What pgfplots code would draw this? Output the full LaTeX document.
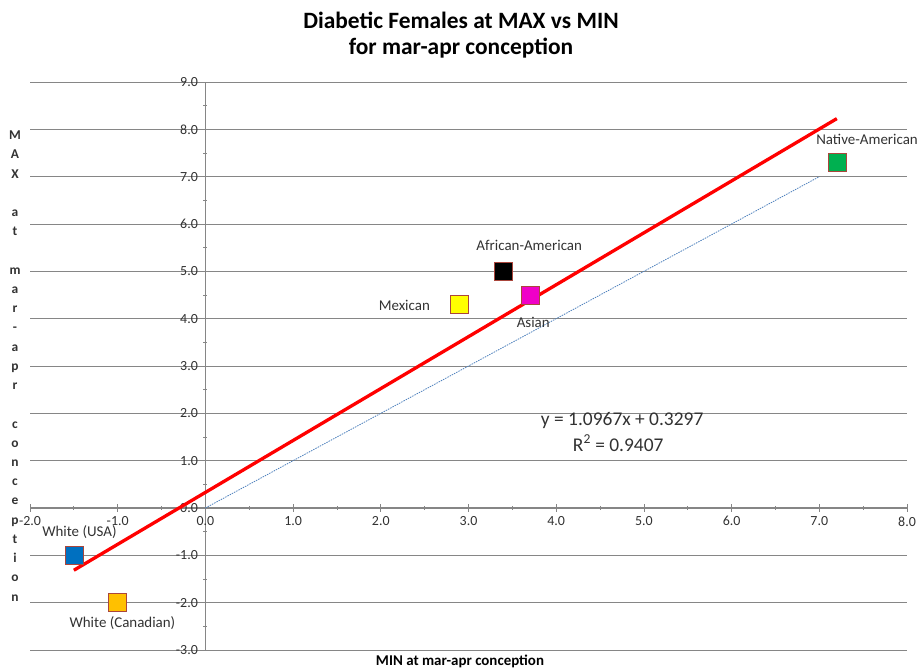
\documentclass[border=0pt]{standalone}
\usepackage{fontspec}
\setmainfont{Carlito}
\usepackage{pgfplots}
\pgfplotsset{compat=1.18}
\definecolor{gridgray}{RGB}{134,134,134}
\definecolor{labelgray}{RGB}{50,50,50}
\definecolor{markedge}{RGB}{170,70,60}
\definecolor{usablue}{RGB}{0,112,192}
\definecolor{canorange}{RGB}{255,192,0}
\definecolor{mexyellow}{RGB}{255,255,0}
\definecolor{asianpink}{RGB}{240,0,200}
\definecolor{nativegreen}{RGB}{0,176,80}
\definecolor{refblue}{RGB}{79,129,189}
\begin{document}
\begin{tikzpicture}[x=1bp,y=1bp]
\useasboundingbox (-30,-22) rectangle (892,650);
\begin{axis}[
  at={(0,0)}, anchor=south west,
  scale only axis, width=877bp, height=568bp,
  xmin=-2, xmax=8, ymin=-3, ymax=9,
  axis lines=middle,
  axis line style={-, draw=gridgray, line width=1bp},
  xtick={-2,-1,...,8}, ytick={-3,-2,...,9},
  minor tick num=1,
  ymajorgrids, grid style={draw=gridgray, line width=0.9bp},
  hide obscured x ticks=false, hide obscured y ticks=false,
  tick style={draw=gridgray, line width=0.8bp},
  major tick length=8bp, minor tick length=4bp,
  tick align=center,
  clip=false,
  /pgf/number format/.cd, fixed, fixed zerofill, precision=1, assume math mode=true,
  /pgfplots/.cd,
  tick label style={font=\fontsize{14}{14}\selectfont, text=labelgray},
  xticklabel style={yshift=-1bp},
  yticklabel style={xshift=0bp},
]
\addplot[only marks, mark=square*, mark size=9bp, mark options={fill=usablue, draw=markedge, line width=0.6bp}] coordinates {(-1.5,-1.0)};
\addplot[only marks, mark=square*, mark size=9bp, mark options={fill=canorange, draw=markedge, line width=0.6bp}] coordinates {(-1.0,-2.0)};
\addplot[only marks, mark=square*, mark size=9bp, mark options={fill=mexyellow, draw=markedge, line width=0.6bp}] coordinates {(2.9,4.3)};
\addplot[only marks, mark=square*, mark size=9bp, mark options={fill=black, draw=markedge, line width=0.6bp}] coordinates {(3.4,5.0)};
\addplot[only marks, mark=square*, mark size=9bp, mark options={fill=asianpink, draw=markedge, line width=0.6bp}] coordinates {(3.7,4.5)};
\addplot[only marks, mark=square*, mark size=9bp, mark options={fill=nativegreen, draw=markedge, line width=0.6bp}] coordinates {(7.2,7.3)};
\addplot[color=refblue, line width=0.8bp, dash pattern=on 1.5bp off 1bp, no marks] coordinates {(0,0) (7,7)};
\addplot[color=red, line width=3.3bp, no marks] coordinates {(-1.5,-1.31535) (7.2,8.22594)};
\begin{scope}[every node/.style={font=\fontsize{15}{18}\selectfont, text=labelgray}]
\node at (axis cs:-1.436,-0.507) {White (USA)};
\node at (axis cs:-0.946,-2.43) {White (Canadian)};
\node at (axis cs:2.268,4.29) {Mexican};
\node at (axis cs:3.692,5.54) {African-American};
\node at (axis cs:3.738,3.93) {Asian};
\node at (axis cs:7.544,7.78) {Native-American};
\end{scope}
\node[font=\fontsize{19.5}{22}\selectfont, text=labelgray] at (axis cs:4.752,1.84) {y = 1.0967x + 0.3297};
\node[font=\fontsize{19.5}{22}\selectfont, text=labelgray] at (axis cs:4.707,1.374) {R\textsuperscript{2} = 0.9407};
\end{axis}
\node[align=center, font=\bfseries\fontsize{23.5}{26}\selectfont] at (431,615) {Diabetic Females at MAX vs MIN\\for mar-apr conception};
\node[align=center, text=labelgray, font=\bfseries\fontsize{13.5}{19.3}\selectfont] at (-15,284) {M\\A\\X\\~\\a\\t\\~\\m\\a\\r\\-\\a\\p\\r\\~\\c\\o\\n\\c\\e\\p\\t\\i\\o\\n};
\node[font=\bfseries\fontsize{15}{15}\selectfont] at (430,-11) {MIN at mar-apr conception};
\end{tikzpicture}
\end{document}
